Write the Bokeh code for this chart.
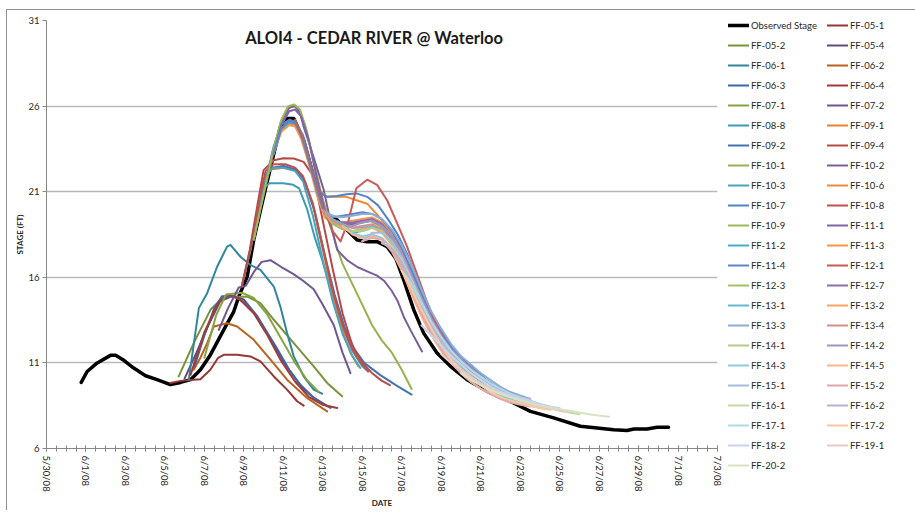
import math
from bokeh.plotting import figure
from bokeh.models import Legend, LegendItem, FixedTicker, Label, Range1d
from bokeh.embed import file_html
from bokeh.resources import INLINE

# x values: days since 5/30/08 00:00 ; y values: stage (ft)
TICK_DAYS = list(range(0, 35, 2))
TICK_LABELS = ["5/30/08", "6/1/08", "6/3/08", "6/5/08", "6/7/08", "6/9/08", "6/11/08",
               "6/13/08", "6/15/08", "6/17/08", "6/19/08", "6/21/08", "6/23/08",
               "6/25/08", "6/27/08", "6/29/08", "7/1/08", "7/3/08"]
MINOR_DAYS = [i / 2 for i in range(0, 69)]
Y_TICKS = [6, 11, 16, 21, 26, 31]
TITLE = "ALOI4 - CEDAR RIVER @ Waterloo"

OBSERVED = [(1.76, 9.86), (2.06, 10.5), (2.57, 11.0), (3.24, 11.44), (3.5, 11.44), (3.92, 11.15),
            (4.34, 10.76), (5.02, 10.25), (5.6, 10.02), (6.28, 9.73), (6.79, 9.86), (7.3, 10.02),
            (7.8, 10.6), (8.31, 11.48), (8.98, 12.93), (9.49, 14.0), (9.74, 14.87), (10.17, 16.04),
            (10.5, 18.18), (11.0, 20.7), (11.52, 23.23), (11.85, 24.78), (12.19, 25.27), (12.53, 25.27),
            (13.03, 24.0), (13.54, 21.87), (14.22, 19.54), (14.73, 19.35), (15.23, 18.76), (15.74, 18.18),
            (16.25, 18.08), (16.75, 18.08), (17.26, 17.79), (17.7, 17.1), (18.1, 15.85), (18.61, 14.1),
            (19.11, 12.74), (19.79, 11.58), (20.47, 10.8), (21.31, 10.02), (22.49, 9.25), (23.67, 8.66),
            (24.52, 8.17), (25.7, 7.79), (27.05, 7.3), (27.9, 7.2), (28.74, 7.1), (29.42, 7.05),
            (29.76, 7.14), (30.43, 7.14), (30.94, 7.24), (31.52, 7.24)]

FF_05_1 = [(6.28, 9.83), (6.8, 9.95), (7.3, 10.0), (7.8, 10.05), (8.3, 10.6), (8.7, 11.3), (9.0, 11.48),
           (9.66, 11.48), (10.33, 11.38), (10.84, 11.09), (11.52, 10.21), (12.19, 9.44), (12.7, 8.76),
           (13.03, 8.5)]
FF_05_2 = [(6.7, 10.21), (7.46, 12.16), (8.31, 14.1), (8.98, 14.87), (10.17, 14.87), (10.84, 14.49),
           (11.52, 13.52), (12.53, 12.16), (13.54, 10.8), (14.22, 9.83), (14.98, 9.05)]
FF_05_4 = [(7.0, 10.1), (7.6, 11.6), (8.2, 13.2), (8.8, 14.6), (9.4, 14.9), (10.0, 14.7), (10.7, 13.7),
           (11.4, 12.3), (12.1, 10.9), (12.8, 9.8), (13.5, 9.0), (14.2, 8.5)]
FF_06_1 = [(7.21, 10.02), (7.5, 12.4), (7.72, 14.2), (8.14, 15.07), (8.65, 16.63), (9.15, 17.79),
           (9.32, 17.89), (9.83, 17.2), (10.33, 16.72), (10.84, 16.43), (11.52, 15.46), (11.85, 14.29),
           (12.19, 12.74), (12.53, 11.38), (13.03, 10.21), (13.54, 9.44), (13.96, 9.2)]
FF_06_2 = [(7.46, 10.6), (7.8, 11.3), (8.14, 12.16), (8.48, 13.13), (9.15, 13.32), (9.66, 13.13),
           (10.5, 12.35), (11.35, 11.19), (12.19, 10.02), (13.2, 8.95), (14.22, 8.17)]
FF_06_3 = [(7.5, 10.8), (8.0, 12.6), (8.5, 14.2), (8.9, 14.9), (9.5, 14.9), (10.2, 14.4), (10.9, 13.3),
           (11.6, 12.0), (12.3, 10.6), (13.0, 9.5), (13.7, 8.8), (14.39, 8.37)]
FF_06_4 = [(7.3, 10.3), (8.0, 12.8), (8.7, 14.5), (9.2, 15.0), (9.8, 14.7), (10.5, 13.9), (11.2, 12.6),
           (11.9, 11.1), (12.6, 9.9), (13.3, 9.0), (14.0, 8.55), (14.73, 8.37)]
FF_07_1 = [(8.0, 11.3), (8.6, 13.8), (9.1, 15.0), (9.9, 15.1), (10.5, 14.8), (11.2, 13.8), (11.9, 12.4),
           (12.6, 11.0), (13.2, 10.0), (13.78, 9.32)]
FF_07_2 = [(8.73, 12.93), (9.2, 14.2), (9.74, 15.4), (10.1, 15.5), (10.5, 16.3), (10.9, 16.9),
           (11.35, 17.0), (11.9, 16.6), (12.5, 16.2), (13.0, 15.8), (13.54, 15.3), (14.0, 14.4),
           (14.56, 13.2), (15.0, 11.6), (15.4, 10.4)]
FF_08_8 = [(10.3, 17.4), (10.7, 19.8), (11.0, 21.2), (11.3, 21.5), (12.0, 21.5), (12.5, 21.4),
           (12.8, 21.2), (13.2, 20.0), (13.6, 18.3), (14.0, 16.9), (14.5, 14.9), (15.0, 13.1),
           (15.5, 11.7), (16.0, 10.8), (16.3, 10.5)]
FF_09_1 = [(9.9, 15.5), (10.3, 17.4), (10.7, 19.8), (11.0, 21.5), (11.35, 22.3), (12.0, 22.4),
           (12.6, 22.3), (13.0, 21.8), (13.5, 20.2), (14.0, 17.6), (14.5, 15.0), (15.0, 12.9),
           (15.4, 11.6), (15.8, 10.8)]
FF_09_2 = [(9.9, 15.5), (10.3, 17.5), (10.7, 20.0), (11.0, 21.6), (11.4, 22.4), (12.0, 22.5),
           (12.6, 22.3), (13.1, 21.6), (13.6, 19.8), (14.1, 17.3), (14.6, 15.0), (15.1, 13.1),
           (15.6, 11.8), (16.1, 11.0), (16.9, 10.3), (17.7, 9.7), (18.5, 9.15)]
FF_09_4 = [(9.9, 15.5), (10.3, 17.6), (10.7, 20.3), (11.0, 22.26), (11.52, 22.84), (12.0, 22.95),
           (12.53, 22.94), (13.03, 22.74), (13.54, 21.87), (14.0, 19.3), (14.5, 16.5), (15.0, 13.9),
           (15.5, 12.0), (16.0, 11.0), (16.5, 10.4), (17.0, 9.95), (17.4, 9.7)]
FF_10_1 = [(10.5, 18.2), (11.0, 20.8), (11.5, 23.3), (11.85, 25.0), (12.2, 25.9), (12.5, 26.05),
           (12.8, 25.8), (13.1, 24.9), (13.5, 23.0), (13.9, 21.0), (14.3, 19.3), (14.7, 17.8),
           (15.0, 16.8), (15.5, 15.6), (16.0, 14.4), (16.5, 13.2), (17.0, 12.3), (17.5, 11.6),
           (18.0, 10.6), (18.5, 9.48)]
FF_10_2 = [(10.5, 18.2), (11.0, 20.9), (11.5, 23.4), (11.9, 25.1), (12.3, 25.9), (12.6, 26.0),
           (12.85, 25.6), (13.03, 24.8), (13.54, 23.0), (14.05, 21.1), (14.47, 18.8), (14.73, 17.6),
           (15.23, 17.0), (15.75, 16.6), (16.25, 16.35), (16.75, 16.1), (17.1, 15.8), (17.5, 15.2),
           (17.8, 14.6), (18.1, 13.7), (18.45, 12.9), (19.03, 11.67)]
FF_10_3 = [(10.5, 18.2), (10.8, 20.5), (11.1, 22.0), (11.5, 22.4), (12.0, 22.4), (12.6, 22.2),
           (13.0, 21.6), (13.5, 19.6), (14.0, 17.0), (14.5, 14.6), (15.0, 12.7), (15.5, 11.4),
           (15.9, 10.7)]
FF_10_6 = [(10.5, 18.2), (11.0, 21.0), (11.5, 23.5), (11.9, 24.6), (12.3, 25.0), (12.6, 24.9),
           (13.0, 24.0), (13.4, 22.5), (13.8, 21.1), (14.2, 20.7), (14.7, 20.7), (15.2, 20.7),
           (15.7, 20.5), (16.25, 20.3), (16.8, 19.6), (17.3, 18.9), (17.8, 18.0), (18.3, 16.8),
           (18.8, 15.3), (19.3, 14.0), (19.8, 12.9), (20.3, 12.0), (20.8, 11.3), (21.3, 10.7),
           (21.8, 10.2), (22.3, 9.8)]
FF_10_7 = [(10.5, 18.2), (11.0, 21.1), (11.5, 23.6), (11.9, 24.9), (12.3, 25.2), (12.6, 25.1),
           (13.0, 24.3), (13.4, 22.6), (13.8, 21.0), (14.2, 20.7), (14.7, 20.75), (15.2, 20.85),
           (15.7, 20.9), (16.25, 20.7), (16.8, 20.2), (17.3, 19.4), (17.8, 18.5), (18.3, 17.3),
           (18.8, 15.8), (19.3, 14.4), (19.8, 13.2), (20.3, 12.3), (20.8, 11.6), (21.3, 11.0),
           (21.8, 10.5), (22.3, 10.0), (22.8, 9.6)]
FF_10_8 = [(10.5, 18.2), (10.8, 20.6), (11.1, 22.2), (11.5, 22.6), (12.1, 22.6), (12.6, 22.4),
           (13.0, 21.9), (13.5, 20.3), (14.0, 17.8), (14.5, 15.2), (15.0, 13.2), (15.5, 11.8),
           (16.0, 10.9), (16.3, 10.5)]
FF_10_9 = [(10.5, 18.2), (11.0, 20.9), (11.5, 23.5), (11.9, 25.2), (12.25, 26.0), (12.55, 26.1),
           (12.85, 25.8), (13.2, 24.5), (13.6, 22.3), (14.0, 20.3), (14.4, 19.4), (14.9, 19.2),
           (15.4, 19.1), (15.9, 19.2), (16.4, 19.3), (16.9, 19.0), (17.4, 18.3), (17.9, 17.2),
           (18.4, 15.8), (18.9, 14.4), (19.4, 13.2), (19.9, 12.2), (20.4, 11.5), (20.9, 10.9),
           (21.4, 10.4), (21.9, 10.0), (22.4, 9.6), (22.9, 9.3)]
FF_11_1 = [(11.5, 23.2), (11.9, 24.9), (12.3, 25.7), (12.6, 25.8), (12.9, 25.4), (13.3, 24.0),
           (13.7, 21.8), (14.1, 19.9), (14.5, 19.3), (15.0, 19.2), (15.5, 19.1), (16.0, 19.2),
           (16.5, 19.3), (17.0, 19.0), (17.5, 18.3), (18.0, 17.2), (18.5, 15.9), (19.0, 14.5),
           (19.5, 13.3), (20.0, 12.4), (20.5, 11.6), (21.0, 11.0), (21.5, 10.5), (22.0, 10.1),
           (22.5, 9.7), (23.0, 9.4)]
FF_11_2 = [(11.5, 23.2), (11.9, 24.6), (12.3, 25.0), (12.6, 25.0), (12.9, 24.4), (13.3, 22.9),
           (13.7, 21.0), (14.1, 19.6), (14.5, 19.2), (15.0, 18.9), (15.5, 18.6), (16.0, 18.7),
           (16.5, 18.9), (17.0, 18.7), (17.5, 18.0), (18.0, 17.0), (18.5, 15.7), (19.0, 14.3),
           (19.5, 13.1), (20.0, 12.2), (20.5, 11.4), (21.0, 10.8), (21.5, 10.3), (22.0, 9.9),
           (22.5, 9.5), (23.0, 9.2), (23.5, 9.0)]
FF_11_3 = [(11.5, 23.2), (11.9, 24.5), (12.3, 24.9), (12.6, 24.8), (12.9, 24.1), (13.3, 22.6),
           (13.7, 20.8), (14.1, 19.5), (14.5, 19.2), (15.0, 19.2), (15.5, 19.3), (16.0, 19.4),
           (16.5, 19.5), (17.0, 19.2), (17.5, 18.5), (18.0, 17.4), (18.5, 16.0), (19.0, 14.6),
           (19.5, 13.3), (20.0, 12.3), (20.5, 11.5), (21.0, 10.9), (21.5, 10.4), (22.0, 10.0),
           (22.5, 9.6), (23.0, 9.3)]
FF_11_4 = [(11.5, 23.2), (11.9, 24.7), (12.3, 25.1), (12.6, 25.0), (12.9, 24.3), (13.3, 22.8),
           (13.7, 21.0), (14.1, 19.7), (14.5, 19.5), (15.0, 19.6), (15.5, 19.7), (16.0, 19.8),
           (16.5, 19.7), (17.0, 19.4), (17.5, 18.7), (18.0, 17.7), (18.5, 16.4), (19.0, 15.0),
           (19.5, 13.7), (20.0, 12.7), (20.5, 11.9), (21.0, 11.2), (21.5, 10.7), (22.0, 10.2),
           (22.5, 9.8), (23.0, 9.5), (23.5, 9.2)]
FF_12_1 = [(12.6, 25.2), (13.03, 24.0), (13.54, 21.9), (14.0, 20.1), (14.5, 18.7), (14.9, 18.1),
           (15.3, 19.3), (15.7, 21.2), (16.25, 21.7), (16.75, 21.4), (17.26, 20.5), (17.77, 19.15),
           (18.27, 17.79), (18.8, 16.1), (19.3, 14.5), (19.8, 13.1), (20.3, 12.1), (20.8, 11.3),
           (21.3, 10.7), (21.8, 10.2), (22.3, 9.8), (22.8, 9.5)]
FF_12_3 = [(13.0, 24.0), (13.5, 21.8), (14.0, 19.9), (14.5, 19.1), (15.0, 18.8), (15.5, 18.7),
           (16.0, 18.8), (16.5, 19.0), (17.0, 18.8), (17.5, 18.1), (18.0, 17.0), (18.5, 15.6),
           (19.0, 14.2), (19.5, 13.0), (20.0, 12.1), (20.5, 11.3), (21.0, 10.7), (21.5, 10.2),
           (22.0, 9.8), (22.5, 9.4), (23.0, 9.1)]
FF_12_7 = [(13.0, 24.0), (13.5, 21.9), (14.0, 20.0), (14.5, 19.3), (15.0, 19.2), (15.5, 19.2),
           (16.0, 19.3), (16.5, 19.4), (17.0, 19.1), (17.5, 18.4), (18.0, 17.3), (18.5, 15.9),
           (19.0, 14.5), (19.5, 13.3), (20.0, 12.3), (20.5, 11.5), (21.0, 10.9), (21.5, 10.4),
           (22.0, 10.0), (22.5, 9.6), (23.0, 9.3), (23.5, 9.0)]
FF_13_1 = [(14.0, 19.9), (14.5, 19.4), (15.0, 19.1), (15.5, 18.9), (16.0, 18.9), (16.5, 19.0),
           (17.0, 18.8), (17.5, 18.2), (18.0, 17.2), (18.5, 15.9), (19.0, 14.6), (19.5, 13.4),
           (20.0, 12.5), (20.5, 11.7), (21.0, 11.1), (21.5, 10.6), (22.0, 10.2), (22.5, 9.8),
           (23.0, 9.5), (23.5, 9.2), (24.0, 9.0)]
FF_13_2 = [(14.0, 19.9), (14.5, 19.3), (15.0, 18.9), (15.5, 18.7), (16.0, 18.8), (16.5, 18.9),
           (17.0, 18.6), (17.5, 17.9), (18.0, 16.8), (18.5, 15.4), (19.0, 14.1), (19.5, 12.9),
           (20.0, 12.0), (20.5, 11.2), (21.0, 10.6), (21.5, 10.1), (22.0, 9.7), (22.5, 9.4),
           (23.0, 9.1), (23.5, 8.9), (24.0, 8.7)]
FF_13_3 = [(14.0, 19.9), (14.5, 19.6), (15.0, 19.5), (15.5, 19.6), (16.0, 19.7), (16.5, 19.7),
           (17.0, 19.4), (17.5, 18.8), (18.0, 17.9), (18.5, 16.7), (19.0, 15.3), (19.5, 14.0),
           (20.0, 13.0), (20.5, 12.1), (21.0, 11.4), (21.5, 10.9), (22.0, 10.4), (22.5, 10.0),
           (23.0, 9.6), (23.5, 9.3), (24.0, 9.1), (24.5, 8.9)]
FF_13_4 = [(14.0, 19.9), (14.5, 19.3), (15.0, 19.0), (15.5, 18.9), (16.0, 19.0), (16.5, 19.1),
           (17.0, 18.8), (17.5, 18.1), (18.0, 17.0), (18.5, 15.6), (19.0, 14.2), (19.5, 13.0),
           (20.0, 12.0), (20.5, 11.3), (21.0, 10.7), (21.5, 10.2), (22.0, 9.8), (22.5, 9.4),
           (23.0, 9.1), (23.5, 8.9)]
FF_14_1 = [(15.0, 19.0), (15.5, 18.7), (16.0, 18.7), (16.5, 18.9), (17.0, 18.7), (17.5, 18.0),
           (18.0, 16.9), (18.5, 15.5), (19.0, 14.2), (19.5, 13.0), (20.0, 12.1), (20.5, 11.3),
           (21.0, 10.7), (21.5, 10.2), (22.0, 9.8), (22.5, 9.5), (23.0, 9.2), (23.5, 9.0),
           (24.0, 8.8), (24.5, 8.6)]
FF_14_2 = [(15.0, 19.0), (15.5, 19.0), (16.0, 19.2), (16.5, 19.3), (17.0, 19.0), (17.5, 18.4),
           (18.0, 17.4), (18.5, 16.1), (19.0, 14.8), (19.5, 13.6), (20.0, 12.6), (20.5, 11.8),
           (21.0, 11.2), (21.5, 10.7), (22.0, 10.2), (22.5, 9.8), (23.0, 9.5), (23.5, 9.2),
           (24.0, 9.0), (24.5, 8.9)]
FF_14_3 = [(15.0, 19.0), (15.5, 18.6), (16.0, 18.4), (16.5, 18.5), (17.0, 18.3), (17.5, 17.7),
           (18.0, 16.7), (18.5, 15.4), (19.0, 14.1), (19.5, 13.0), (20.0, 12.1), (20.5, 11.3),
           (21.0, 10.7), (21.5, 10.2), (22.0, 9.8), (22.5, 9.4), (23.0, 9.1), (23.5, 8.9),
           (24.0, 8.7), (24.5, 8.5), (25.0, 8.4)]
FF_14_5 = [(15.0, 19.0), (15.5, 18.5), (16.0, 18.3), (16.5, 18.4), (17.0, 18.2), (17.5, 17.5),
           (18.0, 16.4), (18.5, 15.0), (19.0, 13.7), (19.5, 12.6), (20.0, 11.7), (20.5, 11.0),
           (21.0, 10.4), (21.5, 9.9), (22.0, 9.5), (22.5, 9.2), (23.0, 8.9), (23.5, 8.7),
           (24.0, 8.6), (24.5, 8.5), (25.0, 8.4), (25.5, 8.27)]
FF_15_1 = [(16.0, 18.1), (16.5, 18.6), (17.0, 18.6), (17.5, 18.1), (18.0, 17.2), (18.5, 15.9),
           (19.0, 14.6), (19.5, 13.4), (20.0, 12.5), (20.5, 11.7), (21.0, 11.1), (21.5, 10.6),
           (22.0, 10.1), (22.5, 9.7), (23.0, 9.4), (23.5, 9.1), (24.0, 8.9), (24.5, 8.7),
           (25.0, 8.55)]
FF_15_2 = [(16.0, 18.1), (16.5, 18.3), (17.0, 18.2), (17.5, 17.6), (18.0, 16.6), (18.5, 15.2),
           (19.0, 13.9), (19.5, 12.7), (20.0, 11.8), (20.5, 11.0), (21.0, 10.4), (21.5, 9.9),
           (22.0, 9.5), (22.5, 9.2), (23.0, 8.9), (23.5, 8.7), (24.0, 8.55), (24.5, 8.45)]
FF_16_1 = [(17.0, 18.0), (17.5, 17.8), (18.0, 17.0), (18.5, 15.8), (19.0, 14.5), (19.5, 13.3),
           (20.0, 12.3), (20.5, 11.5), (21.0, 10.9), (21.5, 10.4), (22.0, 10.0), (22.5, 9.6),
           (23.0, 9.3), (23.5, 9.05), (24.0, 8.85), (24.5, 8.65), (25.0, 8.5), (25.5, 8.35),
           (26.0, 8.2), (26.5, 8.1), (27.0, 8.0)]
FF_16_2 = [(17.0, 18.0), (17.5, 17.7), (18.0, 16.9), (18.5, 15.7), (19.0, 14.4), (19.5, 13.2),
           (20.0, 12.3), (20.5, 11.5), (21.0, 10.9), (21.5, 10.4), (22.0, 10.0), (22.5, 9.6),
           (23.0, 9.3), (23.5, 9.1), (24.0, 8.95), (24.52, 8.9)]
FF_17_1 = [(18.0, 16.4), (18.5, 15.6), (19.0, 14.5), (19.5, 13.4), (20.0, 12.5), (20.5, 11.7),
           (21.0, 11.1), (21.5, 10.6), (22.0, 10.2), (22.5, 9.8), (23.0, 9.5), (23.5, 9.2),
           (24.0, 9.0), (24.5, 8.8), (25.0, 8.6), (25.5, 8.45), (26.0, 8.35)]
FF_17_2 = [(18.0, 16.4), (18.5, 15.3), (19.0, 14.1), (19.5, 13.0), (20.0, 12.0), (20.5, 11.2),
           (21.0, 10.6), (21.5, 10.1), (22.0, 9.7), (22.5, 9.3), (23.0, 9.0), (23.5, 8.8),
           (24.0, 8.65), (24.5, 8.5), (25.0, 8.35), (25.53, 8.27)]
FF_18_2 = [(19.0, 13.2), (19.5, 12.6), (20.0, 12.0), (20.5, 11.4), (21.0, 10.9), (21.5, 10.4),
           (22.0, 10.0), (22.5, 9.6), (23.0, 9.3), (23.5, 9.1), (24.0, 8.9), (24.5, 8.75),
           (25.0, 8.6), (25.5, 8.45), (26.0, 8.3)]
FF_19_1 = [(20.0, 11.5), (20.5, 11.0), (21.0, 10.6), (21.5, 10.2), (22.0, 9.8), (22.5, 9.5),
           (23.0, 9.2), (23.5, 9.0), (24.0, 8.8), (24.5, 8.6), (25.0, 8.5), (25.5, 8.35),
           (26.0, 8.25), (26.5, 8.15)]
FF_20_2 = [(21.0, 10.4), (21.5, 10.0), (22.0, 9.7), (22.5, 9.4), (23.0, 9.2), (23.5, 9.0),
           (24.0, 8.8), (24.5, 8.65), (25.0, 8.5), (25.5, 8.4), (26.0, 8.3), (26.5, 8.2),
           (27.0, 8.1), (27.5, 8.0), (28.0, 7.92), (28.5, 7.85)]

SERIES = [
    ("Observed Stage", OBSERVED), ("FF-05-1", FF_05_1), ("FF-05-2", FF_05_2), ("FF-05-4", FF_05_4),
    ("FF-06-1", FF_06_1), ("FF-06-2", FF_06_2), ("FF-06-3", FF_06_3), ("FF-06-4", FF_06_4),
    ("FF-07-1", FF_07_1), ("FF-07-2", FF_07_2), ("FF-08-8", FF_08_8), ("FF-09-1", FF_09_1),
    ("FF-09-2", FF_09_2), ("FF-09-4", FF_09_4), ("FF-10-1", FF_10_1), ("FF-10-2", FF_10_2),
    ("FF-10-3", FF_10_3), ("FF-10-6", FF_10_6), ("FF-10-7", FF_10_7), ("FF-10-8", FF_10_8),
    ("FF-10-9", FF_10_9), ("FF-11-1", FF_11_1), ("FF-11-2", FF_11_2), ("FF-11-3", FF_11_3),
    ("FF-11-4", FF_11_4), ("FF-12-1", FF_12_1), ("FF-12-3", FF_12_3), ("FF-12-7", FF_12_7),
    ("FF-13-1", FF_13_1), ("FF-13-2", FF_13_2), ("FF-13-3", FF_13_3), ("FF-13-4", FF_13_4),
    ("FF-14-1", FF_14_1), ("FF-14-2", FF_14_2), ("FF-14-3", FF_14_3), ("FF-14-5", FF_14_5),
    ("FF-15-1", FF_15_1), ("FF-15-2", FF_15_2), ("FF-16-1", FF_16_1), ("FF-16-2", FF_16_2),
    ("FF-17-1", FF_17_1), ("FF-17-2", FF_17_2), ("FF-18-2", FF_18_2), ("FF-19-1", FF_19_1),
    ("FF-20-2", FF_20_2),
]

# styling (colours per series, in legend order)
COLORS = ["#000000", "#953735", "#77933C", "#604A7B", "#31859C", "#B9631F", "#3A68A8", "#A33B38",
          "#86A443", "#6F5791", "#3C9BB5", "#E9812F", "#4572B0", "#B64A47", "#93B34F", "#7A5E9C",
          "#46A6C0", "#F08A38", "#5283C2", "#C0504D", "#9BBB59", "#8064A2", "#4BACC6", "#F79646",
          "#5A87C5", "#C85A57", "#A3C164", "#8A70AB", "#66B9D0", "#F9A463", "#8EABD5", "#D48F8D",
          "#B3CC86", "#A594C0", "#8DCADB", "#FAB58A", "#A5BCDF", "#DDA9A8", "#C5D9A5", "#BDB1D2",
          "#AFD9E6", "#FBC8A6", "#C7D4EA", "#E9C8C7", "#D6E3C1"]

FONT = "Lato"
TEXT = "#262626"
AXIS = "#868686"

p = figure(frame_width=671, frame_height=428,
           min_border_left=39, min_border_right=0, min_border_top=10, min_border_bottom=55,
           x_range=Range1d(0, 34), y_range=Range1d(6, 31),
           output_backend="svg", toolbar_location=None)
p.outline_line_color = None
p.background_fill_color = "white"
p.border_fill_color = "white"
# Excel-style chart-area border (left and top edges are inside the window)
p.styles = {"margin-left": "6px", "margin-top": "9px",
            "border-left": "1px solid #8e8e8e", "border-top": "1px solid #8e8e8e"}

renderers = []
for (name, pts), col in zip(SERIES, COLORS):
    xs = [a for a, b in pts]
    ys = [b for a, b in pts]
    lw = 3.5 if name == "Observed Stage" else 2
    r = p.line(xs, ys, line_color=col, line_width=lw, line_join="round", line_cap="round")
    renderers.append((name, r))

# legend: two columns read row by row, as in the reference (legend fills column by column)
items = [LegendItem(label=n, renderers=[r]) for n, r in renderers]
ordered = items[0::2] + items[1::2]
legend = Legend(items=ordered, location=(11, -27), ncols=2, orientation="vertical",
                glyph_width=21, glyph_height=20, label_height=20, label_width=76, label_standoff=2,
                spacing=0, padding=0, margin=0, border_line_color=None, background_fill_alpha=0,
                label_text_font=FONT, label_text_font_size="9.5px", label_text_color=TEXT)
p.add_layout(legend, "right")

# axes
xa = p.xaxis[0]
xa.ticker = FixedTicker(ticks=TICK_DAYS, minor_ticks=MINOR_DAYS)
xa.major_label_overrides = {d: lab for d, lab in zip(TICK_DAYS, TICK_LABELS)}
xa.major_label_orientation = -math.pi / 2
xa.major_tick_in = 3
xa.major_tick_out = 3
xa.minor_tick_in = 3
xa.minor_tick_out = 3
xa.axis_label = "DATE"

ya = p.yaxis[0]
ya.ticker = FixedTicker(ticks=Y_TICKS, minor_ticks=[])
ya.major_tick_in = 0
ya.major_tick_out = 4
ya.axis_label = "STAGE (FT)"

for ax in (xa, ya):
    ax.axis_line_color = AXIS
    ax.major_tick_line_color = AXIS
    ax.minor_tick_line_color = AXIS
    ax.major_label_text_font = FONT
    ax.major_label_text_font_size = "9.5px"
    ax.major_label_text_color = TEXT
    ax.axis_label_text_font = FONT
    ax.axis_label_text_font_size = "8px"
    ax.axis_label_text_font_style = "bold"
    ax.axis_label_text_color = TEXT
ya.major_label_standoff = 3
xa.major_label_standoff = 4
xa.axis_label_standoff = 3
ya.axis_label_standoff = 0

p.xgrid.visible = False
p.ygrid.grid_line_color = "#b9b9b9"
p.ygrid.grid_line_width = 1.3

title = Label(x=16.6, y=29.95, text=TITLE, text_align="center", text_baseline="middle",
              text_font=FONT, text_font_style="bold", text_font_size="16.5px", text_color="#1a1a1a")
p.add_layout(title)

open("out.html", "w").write(file_html(p, INLINE))
